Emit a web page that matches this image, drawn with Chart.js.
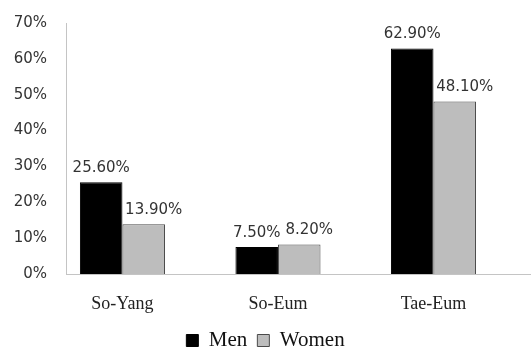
<!DOCTYPE html>
<html>
<head>
<meta charset="utf-8">
<script src="https://cdn.jsdelivr.net/npm/chart.js@4.4.1/dist/chart.umd.min.js"></script>
<style>
html,body{margin:0;padding:0;background:#fff;}
#wrap{width:531px;height:350px;}
</style>
</head>
<body>
<div id="wrap"><canvas id="c" width="531" height="350"></canvas></div>
<script>
const categories = ["So-Yang", "So-Eum", "Tae-Eum"];
const menValues = [25.6, 7.5, 62.9];
const womenValues = [13.9, 8.2, 48.1];
const seriesNames = ["Men", "Women"];
const yTicks = [0, 10, 20, 30, 40, 50, 60, 70];

const labelPlugin = {
  id: 'valueLabels',
  afterDatasetsDraw(chart) {
    const ctx = chart.ctx;
    ctx.save();
    ctx.font = '15px "DejaVu Sans"';
    ctx.fillStyle = '#333';
    ctx.textAlign = 'center';
    ctx.textBaseline = 'middle';
    const shifts = [0, 10];
    chart.data.datasets.forEach((ds, di) => {
      const meta = chart.getDatasetMeta(di);
      meta.data.forEach((bar, i) => {
        const v = ds.data[i].y;
        ctx.fillText(v.toFixed(2) + '%', bar.x + shifts[di], bar.y - 14);
      });
    });
    ctx.restore();
  }
};

const toPoints = arr => arr.map((v, i) => ({x: i, y: v}));

new Chart(document.getElementById('c'), {
  type: 'bar',
  data: {
    datasets: [
      {label: seriesNames[0], data: toPoints(menValues), backgroundColor: '#000', borderColor: '#000', borderWidth: 1},
      {label: seriesNames[1], data: toPoints(womenValues), backgroundColor: '#bdbdbd', borderColor: '#4a4a4a', borderWidth: 1}
    ]
  },
  options: {
    responsive: false,
    animation: false,
    devicePixelRatio: 1,
    layout: {padding: {top: 23, right: 0, left: 0, bottom: -11}},
    datasets: {bar: {categoryPercentage: 0.547, barPercentage: 1}},
    plugins: {
      tooltip: {enabled: false},
      legend: {
        position: 'bottom',
        labels: {
          font: {family: '"Liberation Serif"', size: 21},
          color: '#111',
          boxWidth: 12,
          boxHeight: 12,
          padding: 10
        }
      }
    },
    scales: {
      x: {
        type: 'linear',
        offset: false,
        bounds: 'ticks',
        min: -0.363,
        max: 2.627,
        afterBuildTicks: s => { s.ticks = categories.map((c, i) => ({value: i})); },
        afterFit: s => { s.height = 46; },
        grid: {display: false, drawTicks: false, offset: false},
        border: {display: true, color: '#c4c4c4', width: 1},
        ticks: {
          callback: v => categories[v],
          font: {family: '"Liberation Serif"', size: 18},
          color: '#222',
          padding: 19,
          maxRotation: 0
        }
      },
      y: {
        min: 0,
        max: 70,
        afterBuildTicks: s => { s.ticks = yTicks.map(v => ({value: v})); },
        afterFit: s => { s.width = 66; s.paddingTop = 0; s.paddingBottom = 0; },
        grid: {display: false, drawTicks: false},
        border: {display: true, color: '#c4c4c4', width: 1},
        ticks: {
          callback: v => v + '%',
          font: {family: '"DejaVu Sans"', size: 15},
          color: '#333',
          padding: 19
        }
      }
    }
  },
  plugins: [labelPlugin]
});
</script>
</body>
</html>
